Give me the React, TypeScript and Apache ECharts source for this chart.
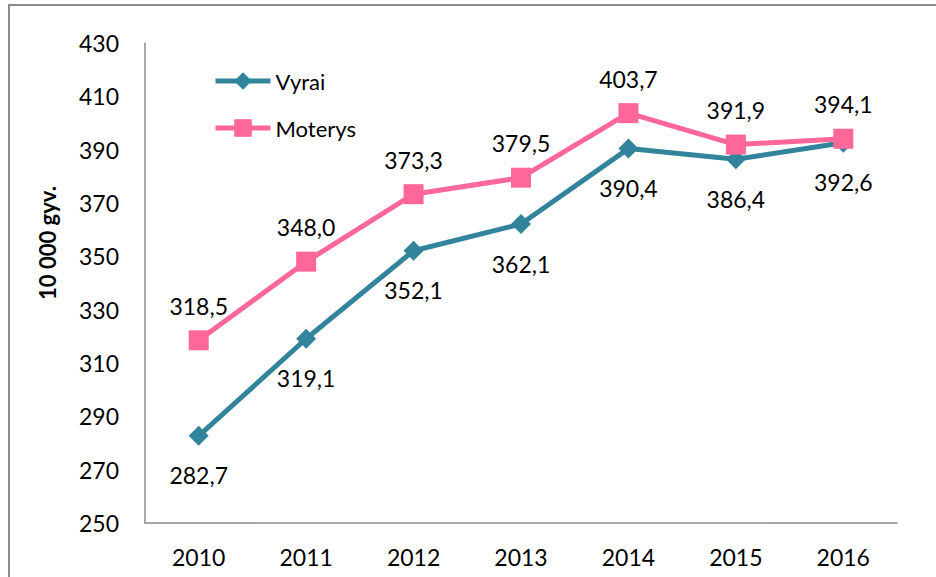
import React, { useEffect, useRef } from "react";
import * as echarts from "echarts";

const years = ["2010", "2011", "2012", "2013", "2014", "2015", "2016"];
const vyrai = [282.7, 319.1, 352.1, 362.1, 390.4, 386.4, 392.6];
const moterys = [318.5, 348.0, 373.3, 379.5, 403.7, 391.9, 394.1];
const seriesNames = ["Vyrai", "Moterys"];
const yTitle = "10 000 gyv.";

const FONT = "Lato, 'Open Sans', sans-serif";
const fmt = (v: number) => v.toFixed(1).replace(".", ",");

export default function App() {
  const ref = useRef<HTMLDivElement>(null);
  useEffect(() => {
    if (!ref.current) return;
    const chart = echarts.init(ref.current, undefined, { renderer: "svg" });
    chart.setOption({
      animation: false,
      backgroundColor: "#ffffff",
      textStyle: { fontFamily: FONT, color: "#000" },
      grid: { left: 145, top: 43, right: 39, bottom: 54, containLabel: false },
      legend: {
        orient: "vertical",
        left: 208,
        top: 65,
        itemWidth: 55,
        itemHeight: 22,
        itemGap: 25,
        lineStyle: { width: 5 },
        textStyle: { fontFamily: FONT, fontSize: 22, color: "#000" },
        data: seriesNames,
      },
      xAxis: {
        type: "category",
        data: years,
        boundaryGap: true,
        axisLine: { lineStyle: { color: "#8c8c8c", width: 1.5 } },
        axisTick: { show: false },
        axisLabel: { fontFamily: FONT, fontSize: 23, color: "#000", margin: 22 },
      },
      yAxis: {
        type: "value",
        min: 250,
        max: 430,
        interval: 20,
        axisLine: { show: true, lineStyle: { color: "#8c8c8c", width: 1.5 } },
        axisTick: { show: false },
        splitLine: { show: false },
        axisLabel: { fontFamily: FONT, fontSize: 23, color: "#000", margin: 26 },
      },
      graphic: [
        {
          type: "rect",
          shape: { x: 9, y: 5, width: 1000, height: 700 },
          style: { fill: "none", stroke: "#8c8c8c", lineWidth: 2 },
          silent: true,
        },
        {
          type: "text",
          x: 47,
          y: 243,
          rotation: Math.PI / 2,
          style: {
            text: yTitle,
            font: `bold 22px ${FONT}`,
            fill: "#000",
            align: "center",
            verticalAlign: "middle",
          },
        },
      ],
      series: [
        {
          name: seriesNames[0],
          type: "line",
          data: vyrai,
          symbol: "diamond",
          symbolSize: 20,
          itemStyle: { color: "#31849B" },
          lineStyle: { color: "#31849B", width: 5 },
          label: {
            show: true,
            position: "bottom",
            distance: 18,
            fontFamily: FONT,
            fontSize: 23,
            color: "#000",
            formatter: (p: any) => fmt(p.value),
          },
          z: 2,
        },
        {
          name: seriesNames[1],
          type: "line",
          data: moterys,
          symbol: "rect",
          symbolSize: 20,
          itemStyle: { color: "#FF6699" },
          lineStyle: { color: "#FF6699", width: 5 },
          label: {
            show: true,
            position: "top",
            distance: 13,
            fontFamily: FONT,
            fontSize: 23,
            color: "#000",
            formatter: (p: any) => fmt(p.value),
          },
          z: 3,
        },
      ],
    });
    return () => chart.dispose();
  }, []);
  return <div ref={ref} style={{ width: 936, height: 577, position: "absolute", left: 0, top: 0 }} />;
}
